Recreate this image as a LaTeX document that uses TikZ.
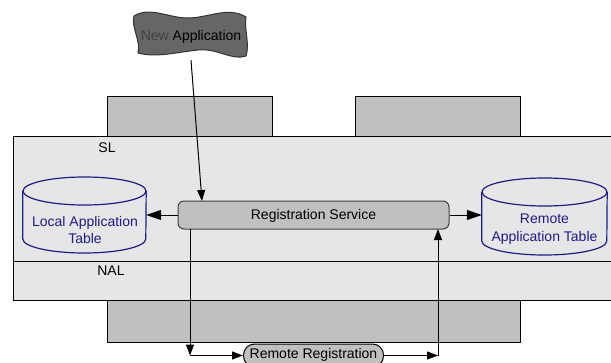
\documentclass[tikz,border=0pt]{standalone}
\usepackage{fontspec}
\setmainfont{Liberation Sans}
\usetikzlibrary{arrows.meta}
\definecolor{panel}{HTML}{E6E6E6}
\definecolor{block}{HTML}{C0C0C0}
\definecolor{navy}{HTML}{1C1C8C}
\definecolor{cloud}{HTML}{666666}
\tikzset{
  box/.style={draw=black, fill=block, line width=1pt, minimum width=#1, inner sep=0pt},
  svc/.style={draw=black!75, fill=block, line width=1pt, rounded corners=6pt, inner sep=0pt},
  arr/.style={-{Triangle[length=11pt,width=8pt]}, line width=1pt},
  bigarr/.style={-{Triangle[length=15pt,width=10pt]}, line width=1pt},
  lbl/.style={font=\fontsize{14}{16}\selectfont, inner sep=0pt},
  tbl/.style={font=\fontsize{14}{17.5}\selectfont, text=navy, align=center, inner sep=0pt},
  drum/.style={draw=navy, line width=1.2pt, fill=panel},
}
\begin{document}
\begin{tikzpicture}[x=1pt,y=-1pt]
\useasboundingbox (0,0) rectangle (611,362);

% upper blocks behind the layer panel
\node[box=165pt, minimum height=40pt] (topL) at (189.5,116) {};
\node[box=165pt, minimum height=40pt] (topR) at (437.5,116) {};

% layer panel (SL over NAL), open to the right
\fill[panel] (13,136) rectangle (611,300);
\draw[line width=1pt] (611,136) -- (13,136) -- (13,300) -- (611,300);
\draw[line width=1pt] (13,261) -- (611,261);
\node[lbl] (sl) at (107,148) {SL};
\node[lbl] (nal) at (111,271) {NAL};

% lower block
\node[box=413pt, minimum height=42pt] (botB) at (313.5,321) {};

% local table drum
\node[minimum width=123pt, minimum height=76pt, inner sep=0pt] (loc) at (84.5,215) {};
\draw[drum] (loc.west |- 0,191) -- (loc.west |- 0,239)
  arc[start angle=180, end angle=360, x radius=61.5pt, y radius=14pt]
  -- (loc.east |- 0,191);
\draw[drum] (84.5,191) ellipse[x radius=61.5pt, y radius=14pt];
\node[tbl] (locT) at (85,230) {Local Application\\Table};

% remote table drum
\node[minimum width=125pt, minimum height=77pt, inner sep=0pt] (rem) at (544.5,216.5) {};
\draw[drum] (rem.west |- 0,192) -- (rem.west |- 0,241)
  arc[start angle=180, end angle=360, x radius=62.5pt, y radius=14pt]
  -- (rem.east |- 0,192);
\draw[drum] (544.5,192) ellipse[x radius=62.5pt, y radius=14pt];
\node[tbl] (remT) at (544.5,229) {Remote\\Application Table};

% registration service
\node[svc, minimum width=271pt, minimum height=28pt] (reg) at (313.5,215) {};
\node[lbl] (regT) at (313.5,215.5) {Registration Service};

% new application (wavy banner)
\filldraw[fill=cloud, draw=black!80, line width=1pt]
  (134,16) .. controls (150,6) and (168,18) .. (188,18)
  .. controls (208,18) and (228,6) .. (246,17)
  .. controls (244,30) and (250,44) .. (246,56)
  .. controls (232,61) and (218,48) .. (198,50)
  .. controls (178,52) and (156,58) .. (138,53)
  .. controls (141,40) and (131,28) .. (134,16) -- cycle;
\node[lbl, minimum width=100pt, minimum height=46pt] (app) at (191,37)
  {\textcolor{black!75}{New} Application};

% remote registration
\node[draw=black, fill=block, line width=1pt, rounded corners=11pt,
  minimum width=140pt, minimum height=23pt, inner sep=0pt] (rr) at (313.5,355.5) {};
\node[lbl] (rrT) at (313.5,354.5) {Remote Registration};

% connectors
\coordinate (regIn) at (202,201);
\coordinate (dnTop) at (190,229);
\coordinate (dnCorner) at (190,355.5);
\coordinate (upCorner) at (438,355.5);
\coordinate (upTop) at (438,229);
\draw[arr] (app.south) -- (regIn);
\draw[bigarr] (reg.west) -- (loc.east);
\draw[bigarr] (reg.east) -- (rem.west |- reg.east);
\draw[arr] (dnTop) -- (dnCorner);
\draw[arr] (dnCorner) -- (rr.west);
\draw[arr] (rr.east) -- (upCorner);
\draw[arr] (upCorner) -- (upTop);
\end{tikzpicture}
\end{document}
